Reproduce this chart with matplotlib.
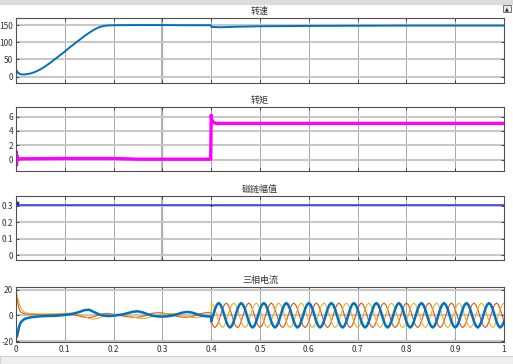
import numpy as np
import matplotlib
matplotlib.use('Agg')
from matplotlib import pyplot as plt
from matplotlib.patches import Rectangle

plt.rcParams['font.family'] = ['Noto Sans CJK SC', 'DejaVu Sans']

# speed (rad/s)
t_speed = [0, 0.001, 0.003, 0.007, 0.012, 0.02, 0.03, 0.04, 0.05, 0.06, 0.07, 0.08,
           0.09, 0.10, 0.11, 0.12, 0.13, 0.14, 0.15, 0.16, 0.17, 0.18, 0.19, 0.20,
           0.25, 0.30, 0.35, 0.399, 0.401, 0.42, 0.45, 0.5, 0.6, 0.7, 0.8, 0.9, 1.0]
speed = [0, 18, 13, 8, 6, 6.5, 9, 14, 21, 30, 40, 51,
         62, 73, 85, 96, 107, 118, 128, 137, 144, 148, 149.5, 150,
         150.5, 150.5, 150, 150, 145, 144, 145.5, 147, 148, 148.5, 149, 149, 149]

# torque (N.m)
t_torque = [0, 0.0005, 0.001, 0.0015, 0.003, 0.1, 0.2, 0.25, 0.3, 0.399,
            0.4, 0.401, 0.404, 0.41, 0.5, 0.7, 1.0]
torque = [0, 1.1, -0.8, 0.6, 0.1, 0.15, 0.15, 0.05, 0.05, 0.05,
          6.2, 5.6, 5.2, 5.05, 5.05, 5.05, 5.05]

# flux magnitude (Wb)
t_flux = [0, 0.0008, 0.002, 0.004, 0.4, 0.401, 0.403, 1.0]
flux = [0, 0.33, 0.31, 0.305, 0.305, 0.298, 0.305, 0.305]

# three-phase currents, start-up part (A)
t_cur0 = [0, 0.001, 0.002, 0.004, 0.006, 0.008, 0.01, 0.015, 0.02, 0.03, 0.04,
          0.05, 0.06, 0.07, 0.08, 0.09,
          0.10, 0.11, 0.12, 0.13, 0.14, 0.15, 0.16, 0.17, 0.18, 0.19, 0.20,
          0.21, 0.22, 0.23, 0.24, 0.25, 0.26, 0.27, 0.28, 0.29, 0.30,
          0.31, 0.32, 0.33, 0.34, 0.35, 0.36, 0.37, 0.38, 0.39, 0.40]
ia0 = [-14, -17, -16.5, -13, -9.5, -7, -5.5, -3.5, -2.5, -1.6, -1.1,
       -0.8, -0.6, -0.5, -0.4, -0.1,
       0.3, 0.8, 1.5, 2.6, 4.0, 4.3, 2.5, 0.8, -0.3, -0.6, -0.3,
       0.2, 0.8, 1.8, 2.8, 3.1, 2.2, 0.8, -0.4, -0.9, -1.0,
       -0.8, -0.2, 0.8, 2.0, 2.6, 2.2, 1.0, -0.3, -0.8, -1.0]
ib0 = [18, 17, 14, 9, 5.5, 3.5, 2.5, 1.5, 1.0, 0.8, 0.7,
       0.6, 0.6, 0.7, 0.8, 0.9,
       1.0, 0.8, 0.2, -0.6, -1.5, -1.8, -1.0, 0.3, 1.2, 1.3, 0.8,
       0.0, -0.6, -1.2, -1.6, -1.5, -0.8, 0.4, 1.6, 2.0, 1.8,
       1.0, 0.0, -0.8, -1.4, -1.5, -1.0, 0.2, 1.4, 2.0, 2.0]
ic0 = [15, 17, 16, 13, 10, 7.5, 5.5, 3, 2.0, 1.5, 1.2,
       1.1, 1.1, 1.2, 1.3, 1.4,
       1.5, 1.6, 1.3, 0.5, -1.0, -2.5, -3.0, -2.0, -0.8, 0.2, 0.6,
       0.8, 0.6, -0.3, -1.3, -2.2, -2.6, -2.0, -1.0, 0.0, 0.8,
       1.2, 1.4, 1.0, 0.0, -1.0, -1.6, -1.8, -1.2, -0.5, 0.0]

# three-phase currents after load step, 0.4 s .. 1.0 s (157 samples)
ia1 = [
    -4.8, 0, 4.8, 8.2, 9.5, 8.2, 4.8, 0, -4.8, -8.2, -9.5, -8.2,
    -4.8, 0, 4.8, 8.2, 9.5, 8.2, 4.8, 0, -4.8, -8.2, -9.5, -8.2,
    -4.8, 0, 4.8, 8.2, 9.5, 8.2, 4.8, 0, -4.8, -8.2, -9.5, -8.2,
    -4.8, 0, 4.8, 8.2, 9.5, 8.2, 4.8, 0, -4.8, -8.2, -9.5, -8.2,
    -4.8, 0, 4.8, 8.2, 9.5, 8.2, 4.8, 0, -4.8, -8.2, -9.5, -8.2,
    -4.8, 0, 4.8, 8.2, 9.5, 8.2, 4.8, 0, -4.8, -8.2, -9.5, -8.2,
    -4.8, 0, 4.8, 8.2, 9.5, 8.2, 4.8, 0, -4.8, -8.2, -9.5, -8.2,
    -4.8, 0, 4.8, 8.2, 9.5, 8.2, 4.8, 0, -4.8, -8.2, -9.5, -8.2,
    -4.8, 0, 4.8, 8.2, 9.5, 8.2, 4.8, 0, -4.8, -8.2, -9.5, -8.2,
    -4.8, 0, 4.8, 8.2, 9.5, 8.2, 4.8, 0, -4.8, -8.2, -9.5, -8.2,
    -4.8, 0, 4.8, 8.2, 9.5, 8.2, 4.8, 0, -4.8, -8.2, -9.5, -8.2,
    -4.8, 0, 4.8, 8.2, 9.5, 8.2, 4.8, 0, -4.8, -8.2, -9.5, -8.2,
    -4.8, 0, 4.8, 8.2, 9.5, 8.2, 4.8, 0, -4.8, -8.2, -9.5, -8.2,
    -4.8]
ib1 = [
    -4.8, -8.2, -9.5, -8.2, -4.8, 0, 4.8, 8.2, 9.5, 8.2, 4.8, 0,
    -4.8, -8.2, -9.5, -8.2, -4.8, 0, 4.8, 8.2, 9.5, 8.2, 4.8, 0,
    -4.8, -8.2, -9.5, -8.2, -4.8, 0, 4.8, 8.2, 9.5, 8.2, 4.8, 0,
    -4.8, -8.2, -9.5, -8.2, -4.8, 0, 4.8, 8.2, 9.5, 8.2, 4.8, 0,
    -4.8, -8.2, -9.5, -8.2, -4.8, 0, 4.8, 8.2, 9.5, 8.2, 4.8, 0,
    -4.8, -8.2, -9.5, -8.2, -4.8, 0, 4.8, 8.2, 9.5, 8.2, 4.8, 0,
    -4.8, -8.2, -9.5, -8.2, -4.8, 0, 4.8, 8.2, 9.5, 8.2, 4.8, 0,
    -4.8, -8.2, -9.5, -8.2, -4.8, 0, 4.8, 8.2, 9.5, 8.2, 4.8, 0,
    -4.8, -8.2, -9.5, -8.2, -4.8, 0, 4.8, 8.2, 9.5, 8.2, 4.8, 0,
    -4.8, -8.2, -9.5, -8.2, -4.8, 0, 4.8, 8.2, 9.5, 8.2, 4.8, 0,
    -4.8, -8.2, -9.5, -8.2, -4.8, 0, 4.8, 8.2, 9.5, 8.2, 4.8, 0,
    -4.8, -8.2, -9.5, -8.2, -4.8, 0, 4.8, 8.2, 9.5, 8.2, 4.8, 0,
    -4.8, -8.2, -9.5, -8.2, -4.8, 0, 4.8, 8.2, 9.5, 8.2, 4.8, 0,
    -4.8]
ic1 = [
    9.5, 8.2, 4.8, 0, -4.8, -8.2, -9.5, -8.2, -4.8, 0, 4.8, 8.2,
    9.5, 8.2, 4.8, 0, -4.8, -8.2, -9.5, -8.2, -4.8, 0, 4.8, 8.2,
    9.5, 8.2, 4.8, 0, -4.8, -8.2, -9.5, -8.2, -4.8, 0, 4.8, 8.2,
    9.5, 8.2, 4.8, 0, -4.8, -8.2, -9.5, -8.2, -4.8, 0, 4.8, 8.2,
    9.5, 8.2, 4.8, 0, -4.8, -8.2, -9.5, -8.2, -4.8, 0, 4.8, 8.2,
    9.5, 8.2, 4.8, 0, -4.8, -8.2, -9.5, -8.2, -4.8, 0, 4.8, 8.2,
    9.5, 8.2, 4.8, 0, -4.8, -8.2, -9.5, -8.2, -4.8, 0, 4.8, 8.2,
    9.5, 8.2, 4.8, 0, -4.8, -8.2, -9.5, -8.2, -4.8, 0, 4.8, 8.2,
    9.5, 8.2, 4.8, 0, -4.8, -8.2, -9.5, -8.2, -4.8, 0, 4.8, 8.2,
    9.5, 8.2, 4.8, 0, -4.8, -8.2, -9.5, -8.2, -4.8, 0, 4.8, 8.2,
    9.5, 8.2, 4.8, 0, -4.8, -8.2, -9.5, -8.2, -4.8, 0, 4.8, 8.2,
    9.5, 8.2, 4.8, 0, -4.8, -8.2, -9.5, -8.2, -4.8, 0, 4.8, 8.2,
    9.5, 8.2, 4.8, 0, -4.8, -8.2, -9.5, -8.2, -4.8, 0, 4.8, 8.2,
    9.5]
t_cur1 = np.linspace(0.4, 1.0, len(ia1))

titles = ['转速', '转矩', '磁链幅值', '三相电流']
yticks = [[0, 50, 100, 150], [0, 2, 4, 6], [0, 0.1, 0.2, 0.3], [-20, 0, 20]]
ylims = [(-18, 172), (-1.6, 7.3), (-0.03, 0.36), (-21, 22)]
xticks = [0, 0.1, 0.2, 0.3, 0.4, 0.5, 0.6, 0.7, 0.8, 0.9, 1]
xticklabels = ['0', '0.1', '0.2', '0.3', '0.4', '0.5', '0.6', '0.7', '0.8', '0.9', '1']

fig = plt.figure(figsize=(5.13, 3.64), dpi=100)
W, H = 513, 364
# window chrome strips
fig.patches.append(Rectangle((0, 1 - 4 / H), 1, 4 / H, transform=fig.transFigure,
                             color='#dcdcdc', zorder=0))
fig.patches.append(Rectangle((0, 0), 1, 8 / H, transform=fig.transFigure,
                             facecolor='#f0f0f0', edgecolor='#d0d0d0', lw=0.8, zorder=0))
fig.patches.append(Rectangle((503 / W, 1 - 12 / H), 8 / W, 7 / H, transform=fig.transFigure,
                             facecolor='#e8e8e8', edgecolor='#606060', lw=0.6, zorder=1))
fig.text(507 / W, 1 - 8.5 / H, '▲', fontsize=3.5, ha='center', va='center',
         family='DejaVu Sans', color='#202020')

boxes = [(17.7, 82.7), (107.3, 171), (196, 260), (287, 342.3)]
axes = []
for top, bot in boxes:
    ax = fig.add_axes([16 / W, 1 - bot / H, 488 / W, (bot - top) / H])
    axes.append(ax)

axes[0].plot(t_speed, speed, color='#0072BD', lw=1.4)
axes[1].plot(t_torque, torque, color='#ff00ff', lw=2.4)
axes[2].plot(t_flux, flux, color='#1a1ae0', lw=1.0)
axes[2].plot([0, 0.002], [0.315, 0.315], color='#1a1ae0', lw=2.5)
axes[3].plot(list(t_cur0) + list(t_cur1), ib0 + ib1, color='#D95319', lw=0.8)
axes[3].plot(list(t_cur0) + list(t_cur1), ic0 + ic1, color='#EDB120', lw=0.8)
axes[3].plot(list(t_cur0) + list(t_cur1), ia0 + ia1, color='#0072BD', lw=1.8)

for i, ax in enumerate(axes):
    ax.set_xlim(0, 1)
    ax.set_ylim(*ylims[i])
    ax.set_xticks(xticks)
    ax.set_yticks(yticks[i])
    ax.set_yticklabels([str(v) for v in yticks[i]])
    if i < 3:
        ax.set_xticklabels([])
        ax.axvline(0.3, color='#b8b8b8', lw=1.6, zorder=0.5)
    else:
        ax.set_xticklabels(xticklabels)
    ax.tick_params(direction='in', length=2.5, width=0.6, top=True, right=True,
                   labelsize=6, labelcolor='#333333', color='#303030', pad=2)
    ax.xaxis.grid(True, color='#a8a8a8', lw=0.7)
    ax.yaxis.grid(True, color='#c8c8c8', lw=1.5)
    ax.set_axisbelow(True)
    for s in ax.spines.values():
        s.set_color('#505050')
        s.set_linewidth(0.8)
    ax.set_title(titles[i], fontsize=6.5, color='#333333', pad=3)

plt.savefig('out.png', dpi=100)
